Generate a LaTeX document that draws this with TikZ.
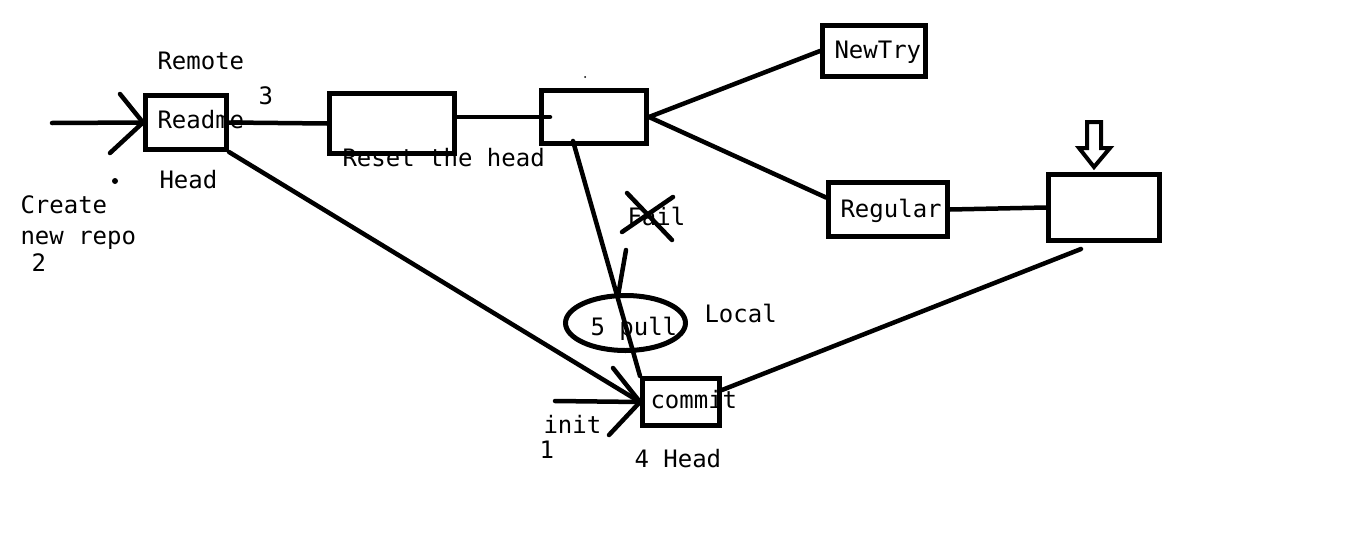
\documentclass[tikz,border=0pt]{standalone}
\usepackage{fontspec}
\setmonofont{DejaVu Sans Mono}
\usetikzlibrary{shapes.geometric,calc}
\begin{document}
\begin{tikzpicture}[x=1pt,y=-1pt,line width=5pt,line cap=round,
  box/.style={draw,rectangle,line width=5pt,inner sep=0pt},
  txt/.style={font=\ttfamily\fontsize{24}{28}\selectfont,anchor=base west,inner sep=0pt},
  conn/.style={draw,line width=4.5pt,line cap=round}]
\fill[white] (0,0) rectangle (1360,546);
\useasboundingbox (0,0) rectangle (1360,546);

% boxes
\node[box,minimum width=81pt,minimum height=54pt] (readme) at (186,122.5) {};
\node[box,minimum width=125pt,minimum height=60pt] (reset) at (392,123.5) {};
\node[box,minimum width=105pt,minimum height=53pt] (box3) at (594,117) {};
\node[box,minimum width=103pt,minimum height=51pt] (newtry) at (874,51) {};
\node[box,minimum width=119pt,minimum height=54pt] (regular) at (888,209.5) {};
\node[box,minimum width=111pt,minimum height=66pt] (box5) at (1104,207.5) {};
\node[box,minimum width=77pt,minimum height=47pt] (commit) at (681,402) {};
\node[draw,ellipse,line width=5pt,inner sep=0pt,minimum width=120pt,minimum height=55pt] (pull) at (625.5,323) {};

% labels
\node[txt] (tRemote) at (155,69) {Remote};
\node[txt] (tReadme) at (155,128) {Readme};
\node[txt] (t3) at (256,104) {3};
\node[txt] (tHead1) at (157,188) {Head};
\node[txt] (tCreate) at (18,213) {Create};
\node[txt] (tRepo) at (18,244) {new repo};
\node[txt] (t2) at (29,271) {2};
\node[txt] (tReset) at (340,166) {Reset the head};
\node[txt] (tFail) at (625,225) {Fail};
\node[txt] (tPull) at (588,335) {5 pull};
\node[txt] (tLocal) at (702,322) {Local};
\node[txt] (tCommit) at (648,408) {commit};
\node[txt] (tInit) at (541,433) {init};
\node[txt] (t1) at (537,458) {1};
\node[txt] (tHead2) at (632,467) {4 Head};
\node[txt] (tNewTry) at (832,58) {NewTry};
\node[txt] (tRegular) at (838,217) {Regular};

% free-end coordinates
\coordinate (inA) at (52,123);
\coordinate (barbA1) at (120,94);
\coordinate (barbA2) at (110,153);
\coordinate (inB) at (555,401);
\coordinate (barbB1) at (613,368);
\coordinate (barbB2) at (609,435);
\coordinate (b5tail) at (1081,249);
\coordinate (failtail) at (626,250);
\coordinate (b3tail) at (573,141);

% connectors
\draw[conn] (inA) -- (readme.west);
\draw[conn] (barbA1) -- (readme.west) -- (barbA2);
\draw[conn] (readme.east) -- (reset.west);
\draw[conn] (reset.east |- box3.west) -- ($(box3.west)+(11,0)$);
\draw[conn] (box3.east) -- (newtry.west);
\draw[conn] (box3.east) -- ($(regular.west)+(0,-12)$);
\draw[conn] (regular.east) -- (box5.west);
\draw[conn] (b5tail) -- ($(commit.east)+(0,-12)$);
\draw[conn] (readme.south east) -- (commit.west);
\draw[conn] (inB) -- (commit.west);
\draw[conn] (barbB1) -- (commit.west) -- (barbB2);
\draw[conn] (b3tail) -- (commit.north west);
\draw[conn] (failtail) -- ($(pull.north)+(-7,0)$);

% cross over Fail
\draw[line width=4.5pt,line cap=round] (627,193) -- (672,240);
\draw[line width=4.5pt,line cap=round] (673,197) -- (622,232);

% hollow down arrow
\draw[line width=4pt,line join=miter,line cap=butt] (1087,122) -- (1101,122) -- (1101,148) -- (1110,148) -- (1094,167) -- (1079,148) -- (1087,148) -- cycle;

% small dots
\fill (115,181) circle (3);
\fill (585,77) circle (1);
\end{tikzpicture}
\end{document}
